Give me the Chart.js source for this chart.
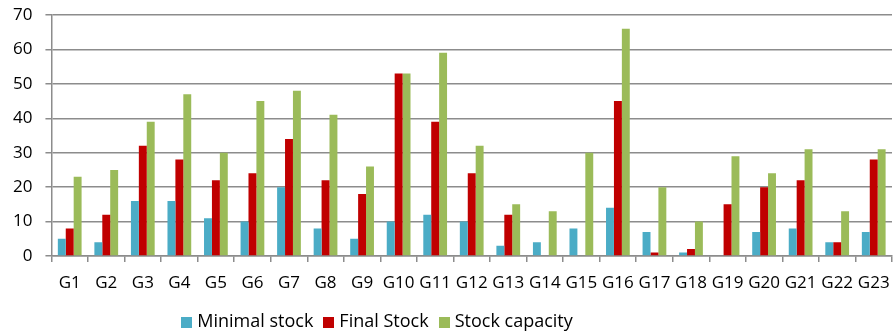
<!DOCTYPE html>
<html>
<head>
<meta charset="utf-8">
<script src="https://cdn.jsdelivr.net/npm/chart.js@4/dist/chart.umd.min.js"></script>
<style>
  html, body { margin: 0; padding: 0; background: #fff; }
  #wrap { width: 894px; height: 335px; position: relative; }
</style>
</head>
<body>
<div id="wrap"><canvas id="stockChart"></canvas></div>
<script>
// categories and series
const groups = ['G1','G2','G3','G4','G5','G6','G7','G8','G9','G10','G11','G12',
                'G13','G14','G15','G16','G17','G18','G19','G20','G21','G22','G23'];
const minimalStock  = [5, 4, 16, 16, 11, 10, 20, 8, 5, 10, 12, 10, 3, 4, 8, 14, 7, 1, 0, 7, 8, 4, 7];
const finalStock    = [8, 12, 32, 28, 22, 24, 34, 22, 18, 53, 39, 24, 12, 0, 0, 45, 1, 2, 15, 20, 22, 4, 28];
const stockCapacity = [23, 25, 39, 47, 30, 45, 48, 41, 26, 53, 59, 32, 15, 13, 30, 66, 20, 10, 29, 24, 31, 13, 31];
const yTicks = [0, 10, 20, 30, 40, 50, 60, 70];

const gridGrey = '#8c8c8c';
const tickFont = { family: 'Open Sans', size: 17 };

// legend drawn by hand: the Excel one sits left of centre, under the plot
const bottomLegend = {
  id: 'bottomLegend',
  afterDraw(chart) {
    const ctx = chart.ctx;
    const box = 11, gapText = 5, gapItem = 10, cy = 322, centreX = 377;
    ctx.save();
    ctx.font = '18px "Open Sans"';
    ctx.textBaseline = 'middle';
    const items = chart.data.datasets.map(ds => ({ text: ds.label, color: ds.backgroundColor,
      w: box + gapText + ctx.measureText(ds.label).width }));
    const total = items.reduce((s, it) => s + it.w, 0) + gapItem * (items.length - 1);
    let x = centreX - total / 2;
    items.forEach(it => {
      ctx.fillStyle = it.color;
      ctx.fillRect(Math.round(x), cy - 5, box, box);
      ctx.fillStyle = '#000';
      ctx.fillText(it.text, x + box + gapText, cy);
      x += it.w + gapItem;
    });
    ctx.restore();
  }
};

new Chart(document.getElementById('stockChart'), {
  type: 'bar',
  data: {
    labels: groups,
    datasets: [
      { label: 'Minimal stock',  data: minimalStock,  backgroundColor: '#4bacc6' },
      { label: 'Final Stock',    data: finalStock,    backgroundColor: '#c00000' },
      { label: 'Stock capacity', data: stockCapacity, backgroundColor: '#9bbb59' }
    ]
  },
  options: {
    responsive: true,
    maintainAspectRatio: false,
    animation: false,
    layout: { padding: { top: 15, right: 2, left: 0, bottom: 39 } },
    datasets: {
      bar: { categoryPercentage: 0.65, barPercentage: 1.0 }
    },
    scales: {
      x: {
        afterFit(scale) {
          scale.height = 40;
          scale.paddingLeft = 0;
          scale.paddingRight = 0;
        },
        grid: {
          drawOnChartArea: false,
          drawTicks: true,
          tickLength: 6,
          color: gridGrey,
          lineWidth: 1.5
        },
        border: { color: gridGrey, width: 1.5 },
        ticks: { color: '#000', font: tickFont, padding: 11, maxRotation: 0, autoSkip: false }
      },
      y: {
        min: 0,
        max: 70,
        afterBuildTicks(axis) { axis.ticks = yTicks.map(v => ({ value: v })); },
        afterFit(scale) {
          scale.paddingTop = 0;
          scale.paddingBottom = 0;
        },
        grid: { color: gridGrey, lineWidth: 1.5, tickLength: 6 },
        border: { color: gridGrey, width: 1.5 },
        ticks: { color: '#000', font: tickFont, padding: 13 }
      }
    },
    plugins: {
      legend: { display: false },
      tooltip: { enabled: false }
    }
  },
  plugins: [bottomLegend]
});
</script>
</body>
</html>
